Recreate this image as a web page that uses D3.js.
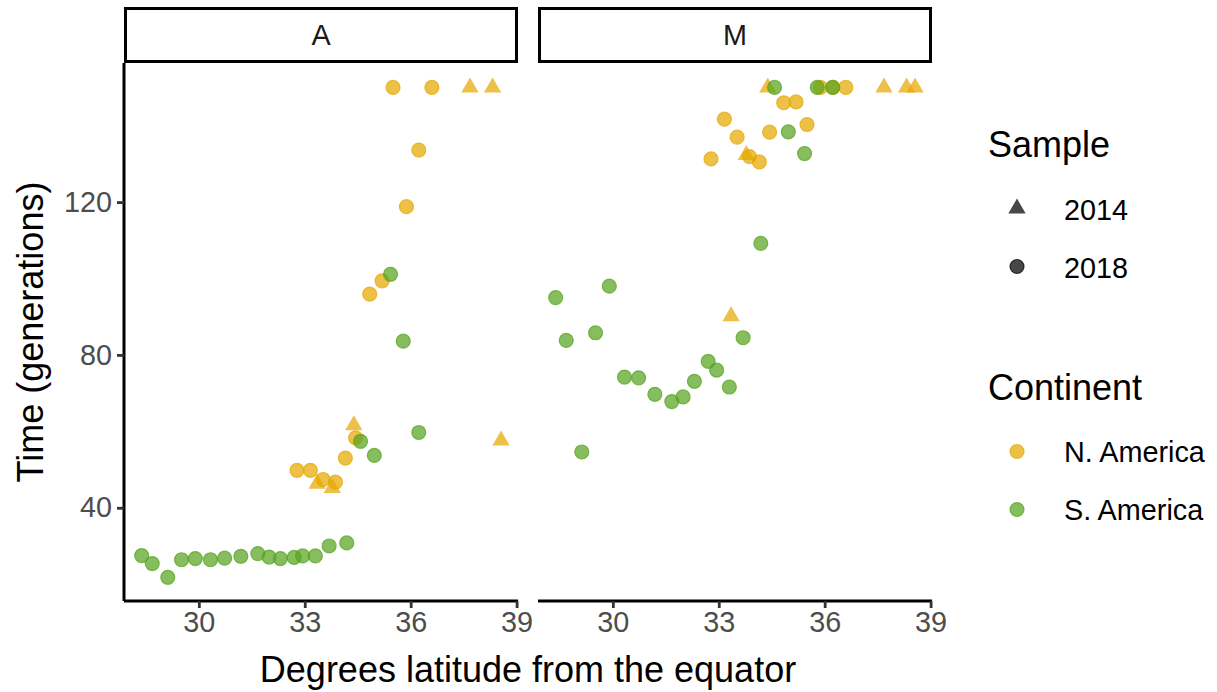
<!DOCTYPE html>
<html>
<head>
<meta charset="utf-8">
<style>
  body { margin: 0; background: #fff; }
  text { font-family: "Liberation Sans", Arial, sans-serif; }
</style>
</head>
<body>
<svg width="1217" height="692"></svg>
<script src="https://d3js.org/d3.v7.min.js"></script>
<script>
  // facets
  var panels = ["A", "M"];

  // S. America, 2018 sample
  var saLat   = [28.38, 28.68, 29.12, 29.51, 29.90, 30.33, 30.73, 31.19, 31.67, 31.99, 32.31,
                 32.70, 32.94, 33.30, 33.69, 34.19, 34.58, 34.97, 35.43, 35.79, 36.23];
  var saTimeA = [27.5, 25.4, 21.8, 26.4, 26.7, 26.4, 26.8, 27.3, 28.0, 27.1, 26.7,
                 27.0, 27.4, 27.4, 30.0, 30.8, 57.4, 53.7, 101.1, 83.6, 59.7];
  var saTimeM = [95.0, 83.8, 54.6, 85.8, 98.0, 74.2, 74.0, 69.7, 67.8, 69.0, 73.1,
                 78.3, 76.0, 71.6, 84.5, 109.2, 150, 138.4, 132.7, 150, 150];

  // N. America, 2018 sample
  var na18Lat   = [32.78, 33.16, 33.52, 33.87, 34.15, 34.44, 34.84, 35.19, 35.50, 35.88, 36.23, 36.60];
  var na18TimeA = [49.8, 49.8, 47.4, 46.7, 53.0, 58.3, 95.9, 99.4, 150, 118.8, 133.6, 150];
  var na18TimeM = [131.3, 141.7, 137.0, 131.9, 130.5, 138.3, 146.0, 146.2, 140.3, 150, 150, 150];

  // N. America, 2014 sample
  var na14Lat   = [33.35, 33.78, 34.39, 37.68, 38.32, 38.56];
  var na14TimeA = [46.3, 45.2, 61.6, 150, 150, 57.6];
  var na14TimeM = [90.1, 132.3, 150, 150, 150, 150];

  var xTicks = [30, 33, 36, 39];
  var yTicks = [40, 80, 120];

  var sampleLabels = ["2014", "2018"];
  var continentLabels = ["N. America", "S. America"];
  var colors = {"N. America": "#E6A800", "S. America": "#58A320"};
  var alpha = 0.72;

  function rows(lat, time, continent, sample) {
    return lat.map(function(d, i) {
      return {lat: d, time: time[i], continent: continent, sample: sample};
    });
  }

  var data = {
    A: rows(na14Lat, na14TimeA, "N. America", "2014")
        .concat(rows(na18Lat, na18TimeA, "N. America", "2018"))
        .concat(rows(saLat, saTimeA, "S. America", "2018")),
    M: rows(na14Lat, na14TimeM, "N. America", "2014")
        .concat(rows(na18Lat, na18TimeM, "N. America", "2018"))
        .concat(rows(saLat, saTimeM, "S. America", "2018"))
  };

  var svg = d3.select("svg");

  var panelLeft = {A: 124, M: 538},
      panelWidth = 394,
      panelTop = 63, panelBottom = 601;

  var y = d3.scaleLinear().domain([15.6, 156.4]).range([panelBottom, panelTop]);

  var triangle = d3.symbol().type(d3.symbolTriangle).size(130);

  panels.forEach(function(p, pi) {
    var x0 = panelLeft[p];
    var x = d3.scaleLinear().domain([27.88, 39.04]).range([x0, x0 + panelWidth]);

    // strip
    svg.append("rect")
        .attr("x", x0 + 1.5).attr("y", 8.5)
        .attr("width", panelWidth - 3).attr("height", 53)
        .attr("fill", "#fff").attr("stroke", "#000").attr("stroke-width", 3);
    svg.append("text")
        .attr("x", x0 + panelWidth / 2).attr("y", 45)
        .attr("text-anchor", "middle")
        .attr("font-size", 28.8).attr("fill", "#1a1a1a")
        .text(p);

    // x axis
    var gx = svg.append("g")
        .attr("transform", "translate(0," + panelBottom + ")")
        .call(d3.axisBottom(x).tickValues(xTicks).tickSize(7).tickPadding(4).tickSizeOuter(0));
    gx.select(".domain").attr("stroke", "#000").attr("stroke-width", 3)
        .attr("d", "M" + x0 + ",0H" + (x0 + panelWidth));
    gx.selectAll(".tick line").attr("stroke", "#333").attr("stroke-width", 2.8);
    gx.selectAll(".tick text").attr("font-size", 28.8).attr("fill", "#4d4d4d")
        .attr("font-family", "Liberation Sans, Arial, sans-serif");

    // y axis only on first panel
    if (pi === 0) {
      var gy = svg.append("g")
          .attr("transform", "translate(" + x0 + ",0)")
          .call(d3.axisLeft(y).tickValues(yTicks).tickSize(7).tickPadding(5).tickSizeOuter(0));
      gy.select(".domain").attr("stroke", "#000").attr("stroke-width", 3)
          .attr("d", "M0," + panelTop + "V" + panelBottom);
      gy.selectAll(".tick line").attr("stroke", "#333").attr("stroke-width", 2.8);
      gy.selectAll(".tick text").attr("font-size", 28.8).attr("fill", "#4d4d4d")
          .attr("font-family", "Liberation Sans, Arial, sans-serif");
    }

    var g = svg.append("g");
    data[p].forEach(function(d) {
      var c = colors[d.continent];
      if (d.sample === "2014") {
        g.append("path")
            .attr("d", triangle)
            .attr("transform", "translate(" + x(d.lat) + "," + y(d.time) + ")")
            .attr("fill", c).attr("fill-opacity", alpha);
      } else {
        g.append("circle")
            .attr("cx", x(d.lat)).attr("cy", y(d.time)).attr("r", 7)
            .attr("fill", c).attr("fill-opacity", alpha)
            .attr("stroke", c).attr("stroke-opacity", alpha).attr("stroke-width", 1.2);
      }
    });
  });

  // axis titles
  svg.append("text")
      .attr("x", 528).attr("y", 682)
      .attr("text-anchor", "middle").attr("font-size", 36)
      .text("Degrees latitude from the equator");
  svg.append("text")
      .attr("transform", "translate(43," + ((panelTop + panelBottom) / 2) + ") rotate(-90)")
      .attr("text-anchor", "middle").attr("font-size", 36)
      .text("Time (generations)");

  // legends
  var lg = svg.append("g");
  lg.append("text").attr("x", 988).attr("y", 157).attr("font-size", 36).text("Sample");
  sampleLabels.forEach(function(s, i) {
    var cy = 208.5 + i * 58;
    if (s === "2014") {
      lg.append("path").attr("d", triangle)
          .attr("transform", "translate(1017," + cy + ")")
          .attr("fill", "#000").attr("fill-opacity", alpha);
    } else {
      lg.append("circle").attr("cx", 1017).attr("cy", cy).attr("r", 7)
          .attr("fill", "#000").attr("fill-opacity", alpha)
          .attr("stroke", "#000").attr("stroke-opacity", alpha).attr("stroke-width", 1.2);
    }
    lg.append("text").attr("x", 1064).attr("y", cy + 11).attr("font-size", 28.8).text(s);
  });

  lg.append("text").attr("x", 988).attr("y", 400).attr("font-size", 36).text("Continent");
  continentLabels.forEach(function(s, i) {
    var cy = 451.5 + i * 58;
    lg.append("circle").attr("cx", 1017).attr("cy", cy).attr("r", 7)
        .attr("fill", colors[s]).attr("fill-opacity", alpha)
        .attr("stroke", colors[s]).attr("stroke-opacity", alpha).attr("stroke-width", 1.2);
    lg.append("text").attr("x", 1064).attr("y", cy + 10.5).attr("font-size", 28.8).text(s);
  });
</script>
</body>
</html>
